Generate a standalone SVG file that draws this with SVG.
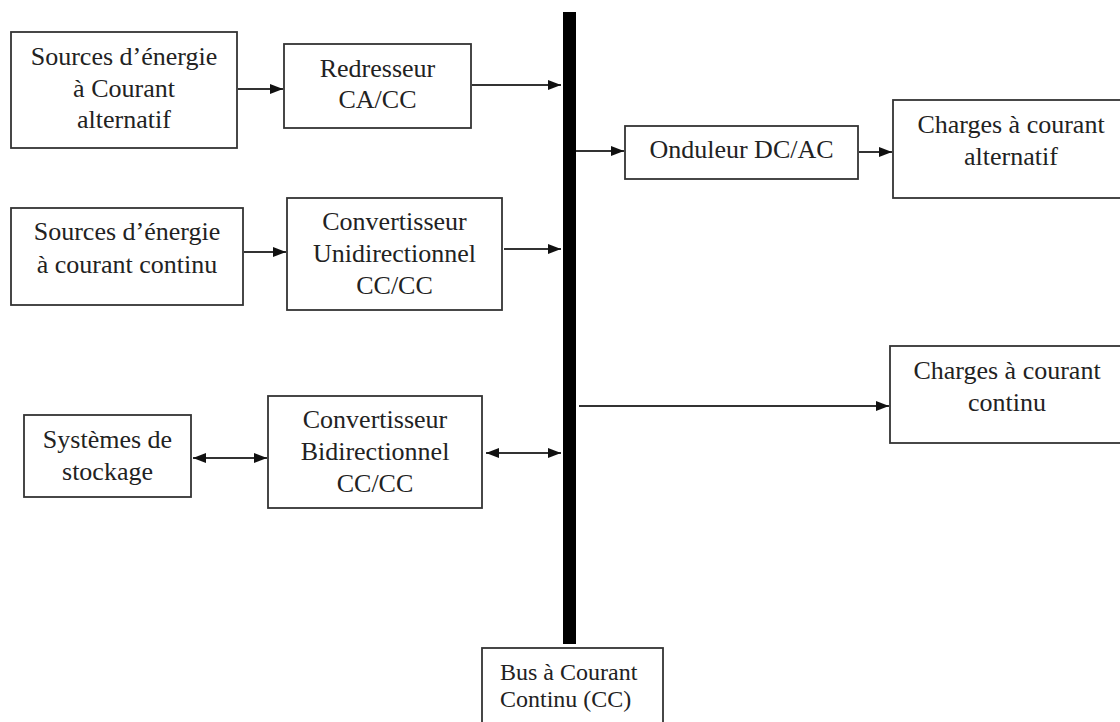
<svg xmlns="http://www.w3.org/2000/svg" width="1120" height="722" viewBox="0 0 1120 722">
<style>
.box{fill:#fff;stroke:#333;stroke-width:1.8}
.t{font-family:"Liberation Serif","Times New Roman",serif;font-size:26px;fill:#222;text-anchor:middle}
.tb{font-family:"Liberation Serif","Times New Roman",serif;font-size:24px;fill:#222}
.ln{stroke:#333;stroke-width:1.8;fill:none}
</style>
<defs>
<marker id="ah" markerUnits="userSpaceOnUse" markerWidth="14" markerHeight="12" refX="13" refY="6" orient="auto-start-reverse">
<path d="M0,1 L13,6 L0,11 z" fill="#111"/>
</marker>
</defs>
<rect width="1120" height="722" fill="#fff"/>
<g id="connectors">
<line class="ln" x1="238" y1="89" x2="283" y2="89" marker-end="url(#ah)"/>
<line class="ln" x1="472" y1="85" x2="561" y2="85" marker-end="url(#ah)"/>
<line class="ln" x1="244" y1="252" x2="286" y2="252" marker-end="url(#ah)"/>
<line class="ln" x1="504" y1="249" x2="561" y2="249" marker-end="url(#ah)"/>
<line class="ln" x1="193" y1="458" x2="267" y2="458" marker-start="url(#ah)" marker-end="url(#ah)"/>
<line class="ln" x1="486" y1="453" x2="561" y2="453" marker-start="url(#ah)" marker-end="url(#ah)"/>
<line class="ln" x1="576" y1="151" x2="624" y2="151" marker-end="url(#ah)"/>
<line class="ln" x1="859" y1="152" x2="892" y2="152" marker-end="url(#ah)"/>
<line class="ln" x1="579" y1="406" x2="889" y2="406" marker-end="url(#ah)"/>
</g>
<g id="bus">
<rect x="563" y="12" width="13" height="632" fill="#000"/>
</g>
<g id="src-ac">
<rect class="box" x="11" y="32" width="226" height="116"/>
<text class="t" x="124" y="65">Sources d’énergie</text>
<text class="t" x="124" y="96.5">à Courant</text>
<text class="t" x="124" y="128">alternatif</text>
</g>
<g id="redresseur">
<rect class="box" x="284" y="44" width="187" height="84"/>
<text class="t" x="377.5" y="77">Redresseur</text>
<text class="t" x="377.5" y="108">CA/CC</text>
</g>
<g id="src-dc">
<rect class="box" x="11" y="208" width="232" height="97"/>
<text class="t" x="127" y="240">Sources d’énergie</text>
<text class="t" x="127" y="273">à courant continu</text>
</g>
<g id="conv-uni">
<rect class="box" x="287" y="198" width="215" height="112"/>
<text class="t" x="394.5" y="230">Convertisseur</text>
<text class="t" x="394.5" y="262">Unidirectionnel</text>
<text class="t" x="394.5" y="294">CC/CC</text>
</g>
<g id="stockage">
<rect class="box" x="24" y="415" width="167" height="82"/>
<text class="t" x="107.5" y="448">Systèmes de</text>
<text class="t" x="107.5" y="480">stockage</text>
</g>
<g id="conv-bi">
<rect class="box" x="268" y="396" width="214" height="112"/>
<text class="t" x="375" y="428">Convertisseur</text>
<text class="t" x="375" y="460">Bidirectionnel</text>
<text class="t" x="375" y="492">CC/CC</text>
</g>
<g id="onduleur">
<rect class="box" x="625" y="126" width="233" height="53"/>
<text class="t" x="741.5" y="158">Onduleur DC/AC</text>
</g>
<g id="charges-ac">
<rect class="box" x="893" y="100" width="236" height="98"/>
<text class="t" x="1011" y="133">Charges à courant</text>
<text class="t" x="1011" y="165">alternatif</text>
</g>
<g id="charges-dc">
<rect class="box" x="890" y="346" width="234" height="97"/>
<text class="t" x="1007" y="379">Charges à courant</text>
<text class="t" x="1007" y="411">continu</text>
</g>
<g id="bus-label">
<rect class="box" x="482" y="648" width="181" height="80"/>
<text class="tb" x="500" y="680">Bus à Courant</text>
<text class="tb" x="500" y="707">Continu (CC)</text>
</g>
</svg>
